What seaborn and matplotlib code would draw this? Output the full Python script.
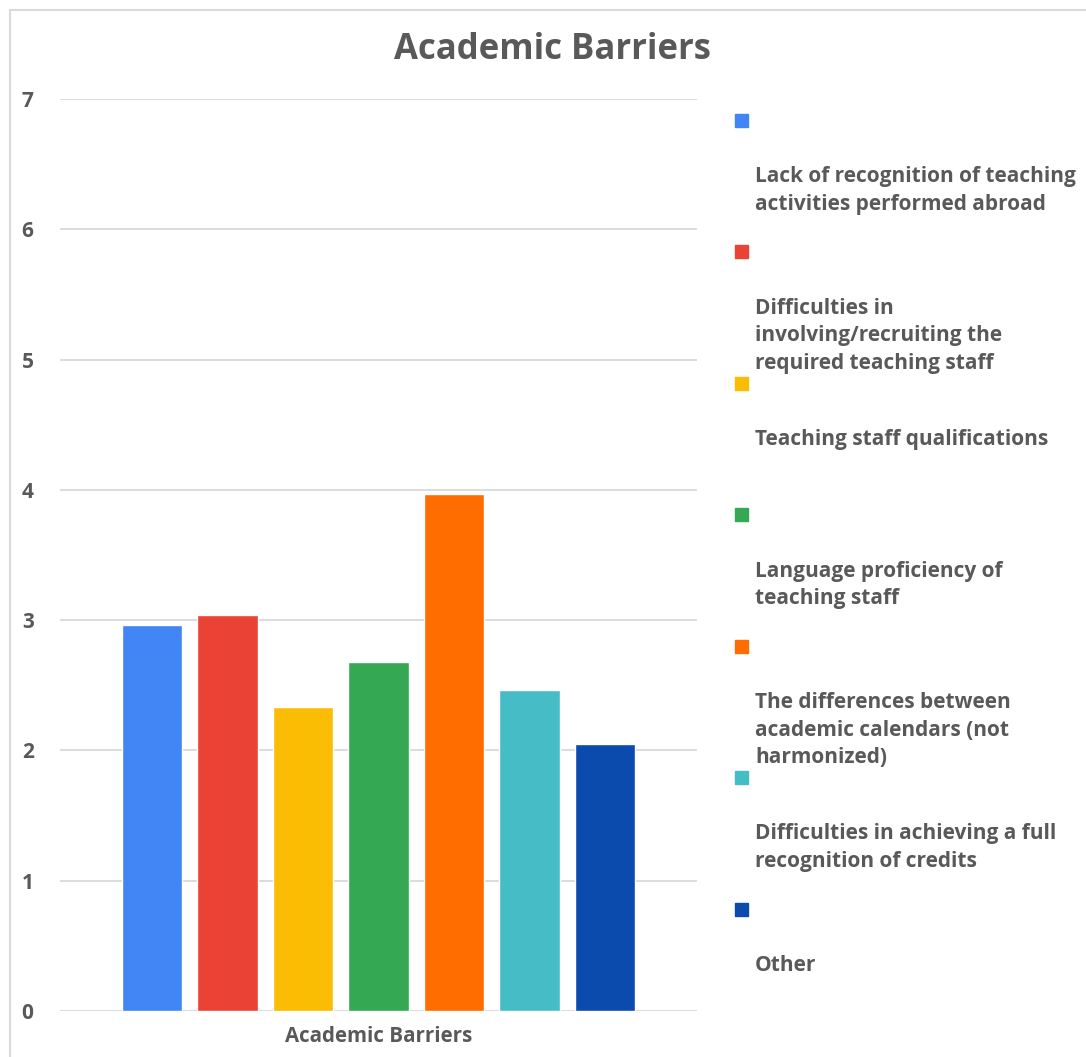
import pandas as pd
import matplotlib
matplotlib.use("Agg")
import matplotlib.pyplot as plt
from matplotlib.patches import Rectangle
import seaborn as sns

# data
group = "Academic Barriers"
categories = [
    "Lack of recognition of teaching activities performed abroad",
    "Difficulties in involving/recruiting the required teaching staff",
    "Teaching staff qualifications",
    "Language proficiency of teaching staff",
    "The differences between academic calendars (not harmonized)",
    "Difficulties in achieving a full recognition of credits",
    "Other",
]
legend_labels = [
    "Lack of recognition of teaching\nactivities performed abroad",
    "Difficulties in\ninvolving/recruiting the\nrequired teaching staff",
    "Teaching staff qualifications",
    "Language proficiency of\nteaching staff",
    "The differences between\nacademic calendars (not\nharmonized)",
    "Difficulties in achieving a full\nrecognition of credits",
    "Other",
]
values = [2.96, 3.04, 2.33, 2.68, 3.97, 2.46, 2.05]
colors = ["#4285F4", "#EA4335", "#FBBC04", "#34A853", "#FF6D01", "#46BDC6", "#0B4BAD"]

df = pd.DataFrame({"group": group, "category": categories, "value": values})

sns.set_style("white")
plt.rcParams["font.family"] = ["Open Sans", "DejaVu Sans"]
txt = "#595959"

W, H = 1086, 1057
fig = plt.figure(figsize=(W / 100, H / 100), dpi=100)
ax = fig.add_axes([60 / W, 1 - 1011 / H, (697 - 60) / W, (1011 - 99) / H])

sns.barplot(data=df, x="group", y="value", hue="category", hue_order=categories,
            palette=colors, saturation=1, width=0.83, gap=0.2, legend=False, ax=ax)

ax.set_ylim(0, 7)
ax.set_yticks(range(8))
ax.set_xlabel("")
ax.set_ylabel("")
ax.yaxis.grid(True, color="#d9d9d9", lw=1.3)
ax.set_axisbelow(True)
sns.despine(ax=ax, left=True, bottom=True)
ax.tick_params(axis="y", length=0, pad=19, labelsize=15, labelcolor=txt)
ax.tick_params(axis="x", length=0, pad=11, labelsize=14.8, labelcolor=txt)
for lab in ax.get_yticklabels() + ax.get_xticklabels():
    lab.set_fontweight("bold")

fig.suptitle("Academic Barriers", x=553 / W, y=1 - 50 / H, va="center",
             fontsize=25, fontweight="bold", color=txt)

# outer chart frame
fig.add_artist(Rectangle((10 / W, -0.1), 1.2, 1 - 10 / H + 0.1, transform=fig.transFigure,
                         fill=False, edgecolor="#d9d9d9", lw=1.5))

# legend: square on its own line, text underneath
for i, (lab, c) in enumerate(zip(legend_labels, colors)):
    ym = 120 + i * 131.5
    fig.add_artist(Rectangle((735 / W, 1 - (ym + 6.5) / H), 13 / W, 13 / H,
                             transform=fig.transFigure, color=c))
    fig.text(755 / W, 1 - (ym + 46) / H, lab, ha="left", va="top", fontsize=15,
             fontweight="bold", color=txt, linespacing=1.42)

fig.savefig("out.png", dpi=100)
